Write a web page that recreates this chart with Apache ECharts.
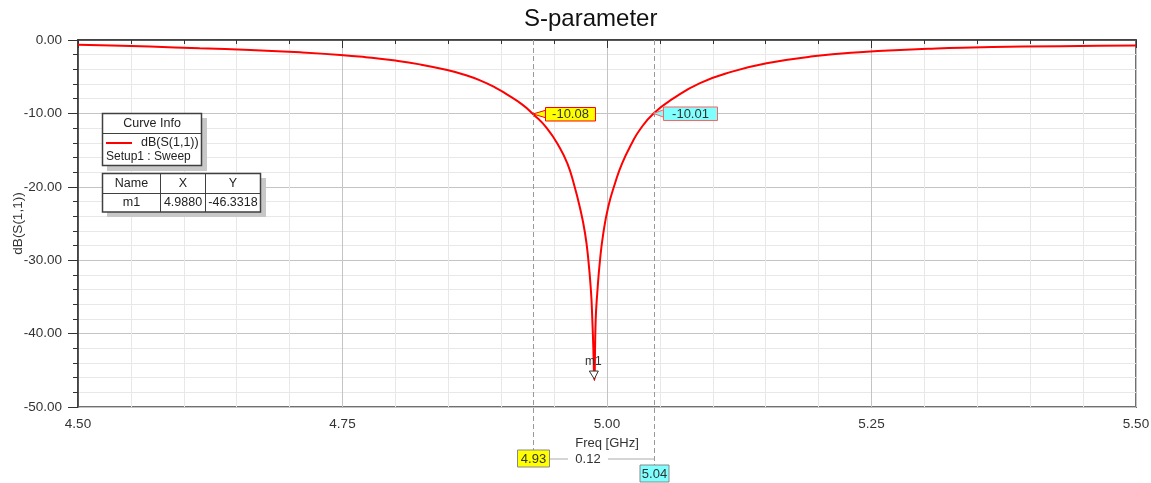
<!DOCTYPE html>
<html>
<head>
<meta charset="utf-8">
<title>S-parameter</title>
<script src="https://cdn.jsdelivr.net/npm/echarts@6/dist/echarts.min.js"></script>
<style>
  html, body { margin: 0; padding: 0; background: #fff; }
  #main { width: 1151px; height: 483px; }
</style>
</head>
<body>
<div id="main"></div>
<script>
// frequency sweep (GHz) and dB(S(1,1))
var freqs = [4.500, 4.532, 4.568, 4.615, 4.663, 4.710, 4.748, 4.772, 4.798, 4.823, 4.849, 4.866, 4.880,
  4.894, 4.905, 4.920, 4.930, 4.9433, 4.9556, 4.9627, 4.9682, 4.9745, 4.9792, 4.9823, 4.9849, 4.9861,
  4.9871, 4.988, 4.9893, 4.9908, 4.9934, 4.9965, 5.0012, 5.0076, 5.0142, 5.0236, 5.0312, 5.044, 5.0627,
  5.0879, 5.1191, 5.1509, 5.1947, 5.2455, 5.2769, 5.3034, 5.3355, 5.3932, 5.4641, 5.500];
var s11 = [-0.65, -0.76, -0.90, -1.12, -1.36, -1.68, -2.03, -2.34, -2.77, -3.32, -4.09, -4.77, -5.50,
  -6.44, -7.37, -8.80, -10.08, -12.03, -14.75, -16.89, -19.35, -22.89, -26.29, -29.84, -34.33, -38.01,
  -42.10, -46.33, -38.15, -34.47, -29.97, -26.34, -22.71, -19.52, -16.83, -14.03, -12.19, -10.01, -7.96,
  -5.87, -4.28, -3.17, -2.23, -1.59, -1.35, -1.20, -1.06, -0.90, -0.79, -0.75];

// markers
var bandX = [4.93, 5.044];
var bandY = [-10.08, -10.01];
var bandLabels = ["-10.08", "-10.01"];
var bandXLabels = ["4.93", "5.04"];
var bandWidthLabel = "0.12";
var m1 = { name: "m1", x: 4.988, y: -46.33, xText: "4.9880", yText: "-46.3318" };

var FONT = "'Liberation Sans', Arial, sans-serif";
var YELLOW = "#ffff00";
var CYAN = "#80ffff";

var myChart = echarts.init(document.getElementById("main"));

var option = {
  animation: false,
  backgroundColor: "#fff",
  textStyle: { fontFamily: FONT },
  title: {
    text: "S-parameter",
    left: 519,
    top: 2,
    textStyle: { fontFamily: FONT, fontSize: 24, fontWeight: "normal", color: "#111" }
  },
  grid: {
    left: 78, right: 15, top: 40, bottom: 76,
    outerBoundsMode: "none",
    show: true, borderColor: "#707070", borderWidth: 2
  },
  xAxis: {
    type: "value",
    min: 4.5,
    max: 5.5,
    interval: 0.25,
    name: "Freq [GHz]",
    nameLocation: "middle",
    nameGap: 30,
    nameMoveOverlap: false,
    nameTextStyle: { fontFamily: FONT, fontSize: 13, color: "#333" },
    axisLine: { lineStyle: { color: "#333", width: 1.5 } },
    axisTick: { length: 8, lineStyle: { color: "#333" } },
    minorTick: { show: true, splitNumber: 5, length: 4, lineStyle: { color: "#333" } },
    splitLine: { show: true, lineStyle: { color: "#c4c4c4" } },
    minorSplitLine: { show: true, lineStyle: { color: "#e8e8e8" } },
    axisLabel: { margin: 10, fontSize: 13.5, color: "#333", formatter: function (v) { return v.toFixed(2); } }
  },
  yAxis: {
    type: "value",
    min: -50,
    max: 0,
    interval: 10,
    name: "dB(S(1,1))",
    nameLocation: "middle",
    nameGap: 53,
    nameMoveOverlap: false,
    nameTextStyle: { fontFamily: FONT, fontSize: 13.5, color: "#333" },
    axisLine: { show: true, lineStyle: { color: "#333", width: 1.5 } },
    axisTick: { show: true, length: 10, lineStyle: { color: "#333" } },
    minorTick: { show: true, splitNumber: 5, length: 5, lineStyle: { color: "#333" } },
    splitLine: { show: true, lineStyle: { color: "#c4c4c4" } },
    minorSplitLine: { show: true, lineStyle: { color: "#e8e8e8" } },
    axisLabel: { margin: 16, fontSize: 13.5, color: "#333", formatter: function (v) { return v.toFixed(2); } }
  },
  series: [
    {
      name: "dB(S(1,1))",
      type: "line",
      data: freqs.map(function (f, i) { return [f, s11[i]]; }),
      showSymbol: false,
      smooth: 0.5,
      lineStyle: { color: "#ff0000", width: 2 },
      z: 5
    }
  ]
};

myChart.setOption(option);

// overlays positioned through the chart's own scales
var g = [];
var top0 = myChart.convertToPixel({ gridIndex: 0 }, [4.5, 0])[1];
var bottom0 = myChart.convertToPixel({ gridIndex: 0 }, [4.5, -50])[1];
var lineY = bottom0 + 52;
var boxTops = [bottom0 + 43, bottom0 + 58];
var colors = [YELLOW, CYAN];
var xs = [];

bandX.forEach(function (x, i) {
  var p = myChart.convertToPixel({ gridIndex: 0 }, [x, bandY[i]]);
  var px = Math.round(p[0]) + 0.5;
  xs.push(px);
  // dashed vertical marker line
  g.push({
    type: "line", z: 10, silent: true,
    shape: { x1: px, y1: top0, x2: px, y2: boxTops[i] },
    style: { stroke: "#999", lineWidth: 1, lineDash: [5, 3] }
  });
  // value callout with pointer
  var bx = px + (i === 0 ? 12 : 9);
  var bw = i === 0 ? 50 : 54;
  g.push({
    type: "polygon", z: 20,
    shape: { points: [[p[0], p[1]], [bx + 1, p[1] - 4], [bx + 1, p[1] + 4]] },
    style: { fill: colors[i], stroke: i === 0 ? "#ff0000" : "#ff6060", lineWidth: 1 }
  });
  g.push({
    type: "rect", z: 21,
    shape: { x: bx, y: p[1] - 6.5, width: bw, height: 13.5 },
    style: { fill: colors[i], stroke: i === 0 ? "#ff0000" : "#ff6060", lineWidth: 1 }
  });
  g.push({
    type: "text", z: 22,
    style: { x: bx + bw / 2, y: p[1] + 0.5, text: bandLabels[i], font: "13px " + FONT, fill: "#333", align: "center", verticalAlign: "middle" }
  });
  // frequency box below the axis
  var w = i === 0 ? 32 : 29;
  g.push({
    type: "rect", z: 21,
    shape: { x: px - w / 2, y: boxTops[i], width: w, height: 17 },
    style: { fill: colors[i], stroke: "#888", lineWidth: 1 }
  });
  g.push({
    type: "text", z: 22,
    style: { x: px, y: boxTops[i] + 9, text: bandXLabels[i], font: "13px " + FONT, fill: "#333", align: "center", verticalAlign: "middle" }
  });
});

// bandwidth connector
var mid = (xs[0] + xs[1]) / 2 - 6;
g.push({ type: "line", z: 10, shape: { x1: xs[0] + 16, y1: lineY, x2: mid - 20, y2: lineY }, style: { stroke: "#aaa", lineWidth: 1 } });
g.push({ type: "line", z: 10, shape: { x1: mid + 20, y1: lineY, x2: xs[1], y2: lineY }, style: { stroke: "#aaa", lineWidth: 1 } });
g.push({ type: "text", z: 22, style: { x: mid, y: lineY, text: bandWidthLabel, font: "13px " + FONT, fill: "#333", align: "center", verticalAlign: "middle" } });

// m1 marker at the minimum
var pm = myChart.convertToPixel({ gridIndex: 0 }, [m1.x, m1.y]);
g.push({
  type: "polygon", z: 20,
  shape: { points: [[pm[0] - 5, pm[1] - 9], [pm[0] + 4, pm[1] - 9], [pm[0], pm[1] - 1]] },
  style: { fill: "#fff", stroke: "#333", lineWidth: 1 }
});
g.push({ type: "text", z: 22, style: { x: pm[0] - 1, y: pm[1] - 18, text: m1.name, font: "12px " + FONT, fill: "#333", align: "center", verticalAlign: "middle" } });

// Curve Info box
g.push({ type: "rect", z: 30, shape: { x: 107, y: 118, width: 100, height: 53 }, style: { fill: "#c8c8c8" } });
g.push({ type: "rect", z: 31, shape: { x: 102.5, y: 113.5, width: 99, height: 52 }, style: { fill: "#fff", stroke: "#404040", lineWidth: 1.5 } });
g.push({ type: "line", z: 32, shape: { x1: 102.5, y1: 133.5, x2: 201.5, y2: 133.5 }, style: { stroke: "#404040", lineWidth: 1 } });
g.push({ type: "text", z: 32, style: { x: 152, y: 124, text: "Curve Info", font: "12.5px " + FONT, fill: "#222", align: "center", verticalAlign: "middle" } });
g.push({ type: "line", z: 32, shape: { x1: 106, y1: 143, x2: 132, y2: 143 }, style: { stroke: "#ff0000", lineWidth: 2 } });
g.push({ type: "text", z: 32, style: { x: 141, y: 143, text: "dB(S(1,1))", font: "12.5px " + FONT, fill: "#222", align: "left", verticalAlign: "middle" } });
g.push({ type: "text", z: 32, style: { x: 106, y: 156.5, text: "Setup1 : Sweep", font: "12px " + FONT, fill: "#222", align: "left", verticalAlign: "middle" } });

// marker table
g.push({ type: "rect", z: 30, shape: { x: 107, y: 178, width: 159, height: 39 }, style: { fill: "#c8c8c8" } });
g.push({ type: "rect", z: 31, shape: { x: 102.5, y: 173.5, width: 158, height: 38.5 }, style: { fill: "#fff", stroke: "#404040", lineWidth: 1.5 } });
g.push({ type: "line", z: 32, shape: { x1: 102.5, y1: 193.5, x2: 260.5, y2: 193.5 }, style: { stroke: "#404040", lineWidth: 1 } });
g.push({ type: "line", z: 32, shape: { x1: 160.5, y1: 173.5, x2: 160.5, y2: 212 }, style: { stroke: "#404040", lineWidth: 1 } });
g.push({ type: "line", z: 32, shape: { x1: 205.5, y1: 173.5, x2: 205.5, y2: 212 }, style: { stroke: "#404040", lineWidth: 1 } });
var cols = [131.5, 183, 233];
var headRow = ["Name", "X", "Y"];
var valRow = [m1.name, m1.xText, m1.yText];
cols.forEach(function (cx, i) {
  g.push({ type: "text", z: 32, style: { x: cx, y: 183.5, text: headRow[i], font: "12.5px " + FONT, fill: "#222", align: "center", verticalAlign: "middle" } });
  g.push({ type: "text", z: 32, style: { x: cx, y: 203, text: valRow[i], font: "12.5px " + FONT, fill: "#222", align: "center", verticalAlign: "middle" } });
});

myChart.setOption({ graphic: g });

window.onresize = function () {
  myChart.resize();
};
</script>
</body>
</html>
